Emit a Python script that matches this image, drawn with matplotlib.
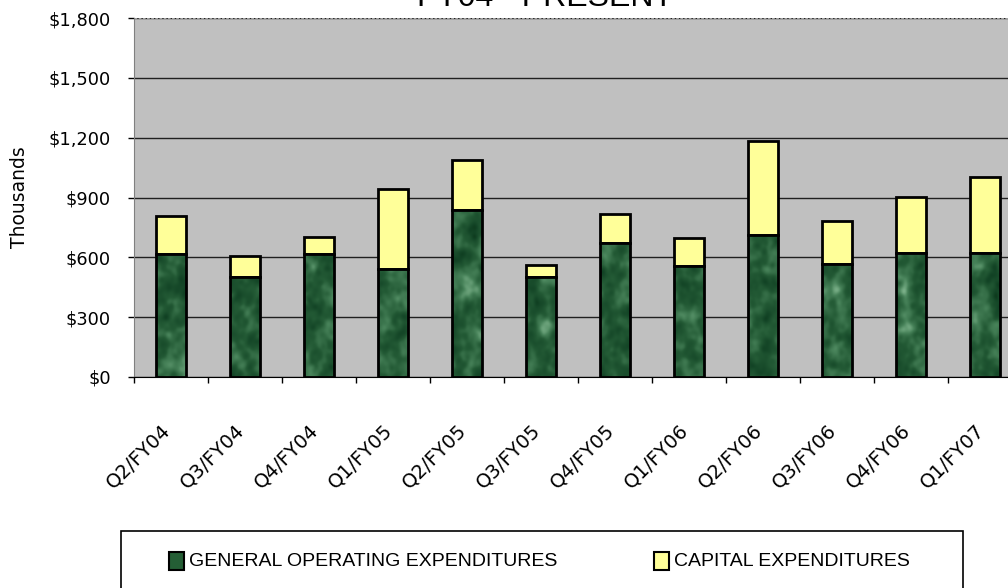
import numpy as np
import matplotlib
matplotlib.use("Agg")
import matplotlib.pyplot as plt
from matplotlib.patches import Rectangle
from matplotlib.transforms import ScaledTranslation
from matplotlib.ticker import FuncFormatter, MultipleLocator, FixedLocator

plt.rcParams['font.family'] = ['DejaVu Sans']

# quarterly spending, in thousands of dollars
quarters = ['Q2/FY04', 'Q3/FY04', 'Q4/FY04', 'Q1/FY05', 'Q2/FY05', 'Q3/FY05',
            'Q4/FY05', 'Q1/FY06', 'Q2/FY06', 'Q3/FY06', 'Q4/FY06', 'Q1/FY07']
general_operating = [617, 501, 617, 542, 837, 501, 672, 557, 712, 567, 622, 622]
capital = [190, 106, 85, 401, 251, 61, 145, 140, 471, 215, 281, 381]

W, H = 1008, 588
fig = plt.figure(figsize=(W / 100, H / 100), dpi=100)

# plot area: left edge at 134px, 74px per quarter (runs off the right side)
ax = fig.add_axes([134 / W, 1 - 377 / H, 12 * 74 / W, 359 / H])
ax.set_facecolor('#c0c0c0')

x = np.arange(len(quarters))
bw = 0.41

# marble-ish green texture for the operating bars
rng = np.random.default_rng(7)
fx = np.fft.fftfreq(400)[:, None]
fy = np.fft.fftfreq(1200)[None, :]
tex = np.zeros((400, 1200))
for scale, wgt in [(900, 1.0), (150, 0.5)]:
    n = rng.standard_normal((400, 1200))
    s = np.real(np.fft.ifft2(np.fft.fft2(n) * np.exp(-(fx ** 2 + fy ** 2) * scale)))
    tex += wgt * (s - s.mean()) / s.std()
tex = (tex - tex.min()) / (tex.max() - tex.min())
marble = matplotlib.colors.LinearSegmentedColormap.from_list(
    'marble', ['#052409', '#124325', '#235a35', '#48835a', '#86ba93'])

gen_bars = ax.bar(x, general_operating, width=bw, color='#245e35',
                  edgecolor='black', linewidth=2, zorder=3)
cap_bars = ax.bar(x, capital, width=bw, bottom=general_operating, color='#ffff99',
                  edgecolor='black', linewidth=2, zorder=3)

for bar in gen_bars:
    im = ax.imshow(tex, cmap=marble, extent=(-0.5, 11.5, 0, 1800),
                   aspect='auto', zorder=3.5, interpolation='bilinear')
    im.set_clip_path(bar)
    bar.set_facecolor('none')
    bar.set_zorder(4)

ax.set_xlim(-0.5, 11.5)
ax.set_ylim(0, 1800)

ax.yaxis.set_major_locator(MultipleLocator(300))
ax.yaxis.set_major_formatter(FuncFormatter(lambda v, p: '${:,.0f}'.format(v)))
ax.grid(axis='y', color='#202020', linewidth=1, zorder=1)
ax.set_axisbelow(True)

ax.xaxis.set_major_locator(FixedLocator(np.arange(-0.5, 12, 1)))
ax.xaxis.set_major_formatter(FuncFormatter(lambda v, p: ''))
ax.xaxis.set_minor_locator(FixedLocator(x))
ax.set_xticklabels(quarters, minor=True, rotation=45, ha='right',
                   rotation_mode='anchor', fontsize=14)
ax.tick_params(axis='x', which='minor', length=0, pad=31)
ax.tick_params(axis='x', which='major', direction='out', length=4.5, width=1)
ax.tick_params(axis='y', direction='out', length=4.5, width=1, labelsize=12.8, pad=12)
shift = ScaledTranslation(-0.1, 0, fig.dpi_scale_trans)
for lab in ax.get_xticklabels(minor=True):
    lab.set_transform(lab.get_transform() + shift)

for side in ['top', 'right']:
    ax.spines[side].set_visible(False)
ax.spines['left'].set_color('#808080')
ax.spines['bottom'].set_color('black')
ax.axhline(1800, color='#a0a0a0', linestyle=(0, (2, 1)), linewidth=1, zorder=2)

ax.set_ylabel('Thousands', fontsize=13.5, labelpad=14)

fig.text(545 / W, 1 - 6 / H, 'FY04 - PRESENT', ha='center', va='baseline', fontsize=23,
         family='Liberation Sans')

# legend box at the bottom
fig.patches.append(Rectangle((121 / W, 1 - 620 / H), (963 - 121) / W, 89 / H,
                             transform=fig.transFigure, facecolor='white',
                             edgecolor='black', linewidth=1.2))
fig.patches.append(Rectangle((169 / W, 1 - 570 / H), 15 / W, 18 / H,
                             transform=fig.transFigure, facecolor='#245e35',
                             edgecolor='black', linewidth=1.5))
fig.patches.append(Rectangle((654 / W, 1 - 570 / H), 15 / W, 18 / H,
                             transform=fig.transFigure, facecolor='#ffff99',
                             edgecolor='black', linewidth=1.5))
fig.text(189 / W, 1 - 562 / H, 'GENERAL OPERATING EXPENDITURES', va='center',
         fontsize=14, family='Liberation Sans')
fig.text(674 / W, 1 - 562 / H, 'CAPITAL EXPENDITURES', va='center',
         fontsize=14, family='Liberation Sans')

fig.savefig('out.png', dpi=100)
